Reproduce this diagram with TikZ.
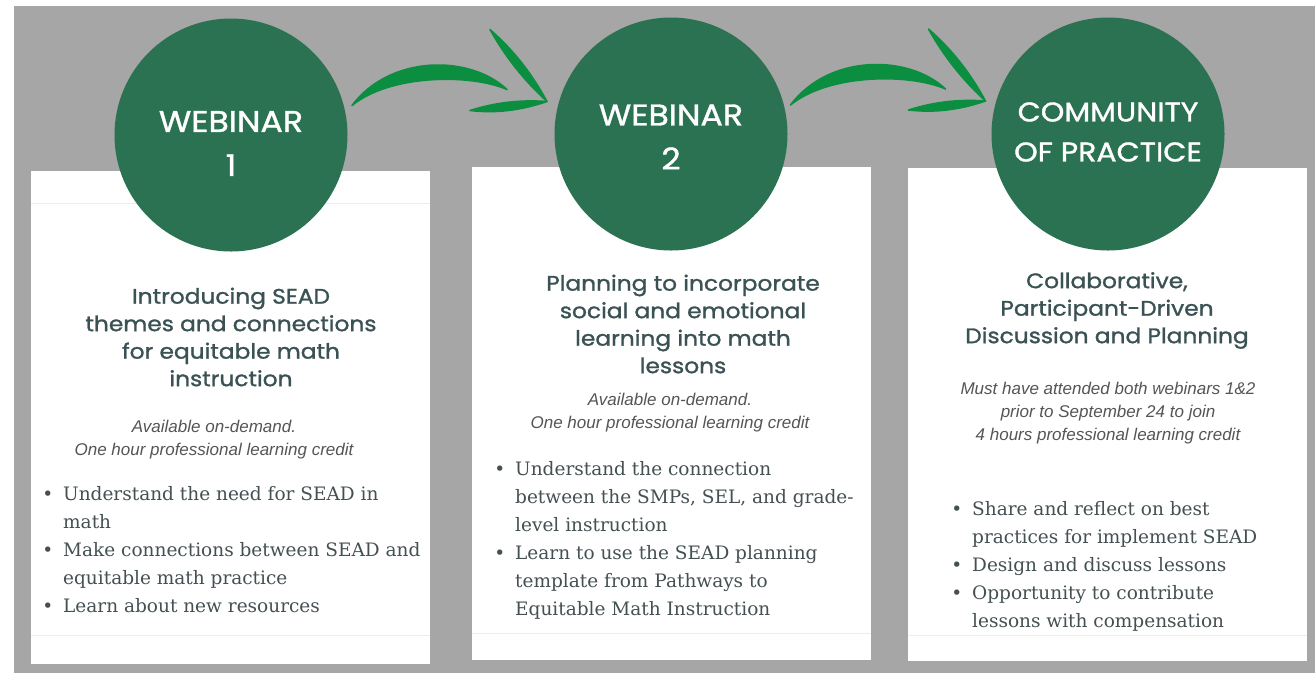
\documentclass[tikz,border=0pt]{standalone}
\usepackage{fontspec}
\setmainfont{DejaVu Serif}
\newfontfamily\headfont[FakeStretch=1.11, FakeBold=1.2]{Poppins}
\newfontfamily\notefont{Liberation Sans}
\usepackage{tikz}
\usetikzlibrary{calc}

\definecolor{backgray}{RGB}{166,166,166}
\definecolor{discgreen}{RGB}{43,114,82}
\definecolor{swooshgreen}{RGB}{12,142,64}
\definecolor{titleslate}{RGB}{58,82,84}
\definecolor{noteink}{RGB}{85,85,85}
\definecolor{pointink}{RGB}{68,80,82}
\definecolor{rulegray}{RGB}{236,236,236}

\begin{document}
\begin{tikzpicture}
[x=1pt, y=-1pt,
card/.style={draw=none, fill=white, anchor=north west, inner sep=0pt,
  minimum width=399pt, minimum height=493pt},
disc/.style={circle, fill=discgreen, minimum size=233pt, inner sep=0pt},
disclabel/.style={text=white, align=center, inner sep=0pt},
headline/.style={text=titleslate, align=center, inner sep=0pt,
  font=\headfont\fontsize{21}{27.5}\selectfont},
note/.style={text=noteink, align=center, inner sep=0pt,
  font=\notefont\itshape\fontsize{17}{23}\selectfont},
points/.style={text=pointink, align=left, anchor=west, inner sep=0pt,
  font=\fontsize{18.5}{28}\selectfont},
swoosh/.pic={
  \fill[swooshgreen, draw=swooshgreen, line width=1.5pt, line join=round]
    (-99,-29) .. controls (-61,-80) and (19,-80) .. (56,-45)
    .. controls (19,-61) and (-61,-60) .. cycle;
  \fill[swooshgreen, draw=swooshgreen, line width=1.5pt, line join=round]
    (39,-105) .. controls (62,-85) and (81,-61) .. (96,-33)
    .. controls (73,-54) and (54,-78) .. cycle;
  \fill[swooshgreen, draw=swooshgreen, line width=1.5pt, line join=round]
    (19,-24) .. controls (45,-21) and (70,-24) .. (96,-33)
    .. controls (69,-35) and (44,-32) .. cycle;
}]

% canvas
\fill[white] (0,0) rectangle (1315,673);
\fill[backgray] (14,6) rectangle (1315,673);
\useasboundingbox (0,0) rectangle (1315,673);

% cards
\node[card] (box1) at (31,171) {};
\node[card] (box2) at (472,167) {};
\node[card] (box3) at (908,168) {};
\draw[rulegray] (box1.west |- 0,203) -- (box1.east |- 0,203);
\draw[rulegray] (box1.west |- 0,635) -- (box1.east |- 0,635);
\draw[rulegray] (box2.west |- 0,633) -- (box2.east |- 0,633);
\draw[rulegray] (box3.west |- 0,635) -- (box3.east |- 0,635);

% circles
\node[disc] (w1) at (231,135) {};
\node[disc] (w2) at (671,134) {};
\node[disc] (cop) at (1108,134) {};
\node[disclabel, font=\headfont\fontsize{30}{44}\selectfont]
  (w1t) at ([yshift=-8.5pt]w1.center) {WEBINAR\\1};
\node[disclabel, font=\headfont\fontsize{30}{44}\selectfont]
  (w2t) at ([yshift=-3pt]w2.center) {WEBINAR\\2};
\node[disclabel, font=\headfont\fontsize{27}{40}\selectfont]
  (copt) at ([yshift=2pt]cop.center) {COMMUNITY\\OF PRACTICE};

% arrows
\pic at ($(w1.east)!0.5!(w2.west)$) {swoosh};
\pic at ($(w2.east)!0.5!(cop.west)$) {swoosh};

% webinar 1
\node[headline] (t1) at (231,337) {Introducing SEAD\\themes and connections\\for equitable math\\instruction};
\node[note] (n1) at (214,439.5) {Available on-demand.\\One hour professional learning credit};
\node[points] (p1) at (63,550) {\llap{\textbullet\hspace{10pt}}Understand the need for SEAD in\\math\\
  \llap{\textbullet\hspace{10pt}}Make connections between SEAD and\\equitable math practice\\
  \llap{\textbullet\hspace{10pt}}Learn about new resources};

% webinar 2
\node[headline] (t2) at (683,324) {Planning to incorporate\\social and emotional\\learning into math\\lessons};
\node[note] (n2) at (670,412.5) {Available on-demand.\\One hour professional learning credit};
\node[points] (p2) at (515,540) {\llap{\textbullet\hspace{10pt}}Understand the connection\\between the SMPs, SEL, and grade-\\level instruction\\
  \llap{\textbullet\hspace{10pt}}Learn to use the SEAD planning\\template from Pathways to\\Equitable Math Instruction};

% community of practice
\node[headline] (t3) at (1107,310.5) {Collaborative,\\Participant-Driven\\Discussion and Planning};
\node[note] (n3) at (1108,413.5) {Must have attended both webinars 1\&2\\prior to September 24 to join\\4 hours professional learning credit};
\node[points] (p3) at (972,566) {\llap{\textbullet\hspace{10pt}}Share and reflect on best\\practices for implement SEAD\\
  \llap{\textbullet\hspace{10pt}}Design and discuss lessons\\
  \llap{\textbullet\hspace{10pt}}Opportunity to contribute\\lessons with compensation};
\end{tikzpicture}
\end{document}
